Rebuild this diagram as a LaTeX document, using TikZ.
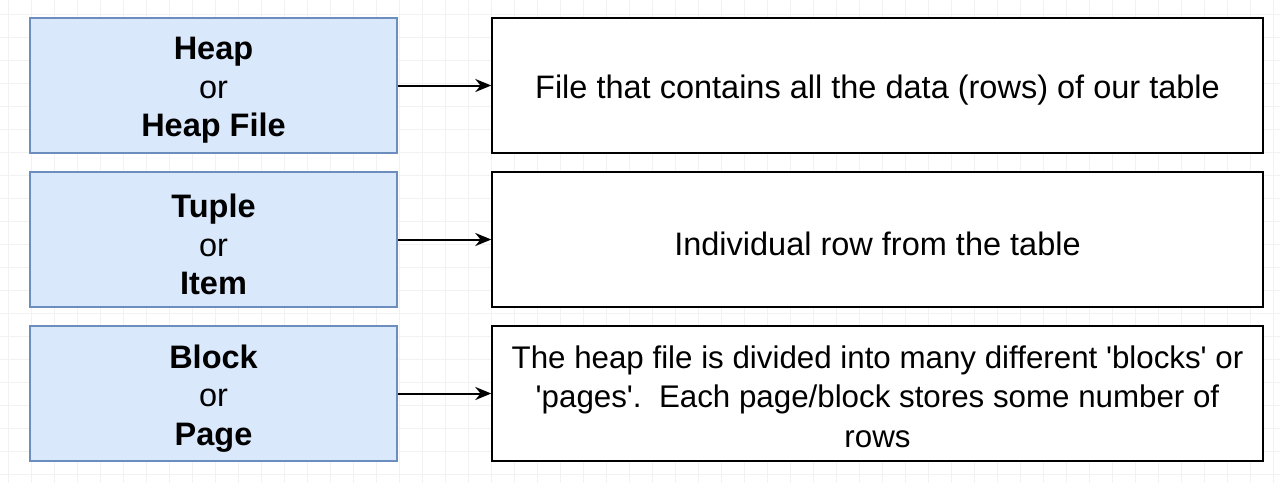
\documentclass[tikz,border=0pt]{standalone}
\usepackage{fontspec}
\setmainfont{Liberation Sans}[Ligatures=TeXOff]
\usetikzlibrary{arrows.meta}
\definecolor{lfill}{HTML}{DAE8FC}
\definecolor{lline}{HTML}{6C8EBF}
\begin{document}
\begin{tikzpicture}[x=1pt,y=-1pt,
  lbox/.style={draw=lline,fill=lfill,line width=1.2pt,minimum width=367pt,minimum height=135pt,inner sep=0pt},
  ltext/.style={align=center,font=\fontsize{32.5}{38.5}\selectfont\bfseries,inner sep=0pt},
  rbox/.style={draw=black,fill=white,line width=1.4pt,minimum width=771pt,minimum height=135pt,inner sep=0pt},
  rtext/.style={align=center,font=\fontsize{32.5}{39.5}\selectfont,inner sep=0pt},
  conn/.style={-{Stealth[length=16pt,width=13pt]},line width=2pt}]
\useasboundingbox[fill=white] (0,0) rectangle (1280,483);
\begin{scope}[draw=black!5,line width=0.5pt]
\foreach \x in {8,31,...,1280} \draw (\x,0) -- (\x,483);
\foreach \y in {14,37,...,483} \draw (0,\y) -- (1280,\y);
\end{scope}
\node[lbox] (heap) at (213.5,85.5) {};
\node[lbox] (tuple) at (213.5,239.5) {};
\node[lbox] (block) at (213.5,393.5) {};
\node[ltext] (heapt) at ([yshift=-5pt]heap.center) {Heap\\{\mdseries or}\\Heap File};
\node[ltext] (tuplet) at ([yshift=-5pt]tuple.center) {Tuple\\{\mdseries or}\\Item};
\node[ltext] (blockt) at ([yshift=-5pt]block.center) {Block\\{\mdseries or}\\Page};
\node[rbox] (d1) at (877.5,85.5) {};
\node[rbox] (d2) at (877.5,239.5) {};
\node[rbox] (d3) at (877.5,393.5) {};
\node[rtext] (d1t) at ([yshift=-5pt]d1.center) {File that contains all the data (rows) of our table};
\node[rtext] (d2t) at ([yshift=-4pt]d2.center) {Individual row from the table};
\node[rtext,font=\fontsize{31.3}{39.5}\selectfont] (d3t) at ([yshift=-3pt]d3.center) {The heap file is divided into many different 'blocks' or\\'pages'.\ \ Each page/block stores some number of\\rows};
\draw[conn] (heap) -- (d1);
\draw[conn] (tuple) -- (d2);
\draw[conn] (block) -- (d3);
\end{tikzpicture}
\end{document}
